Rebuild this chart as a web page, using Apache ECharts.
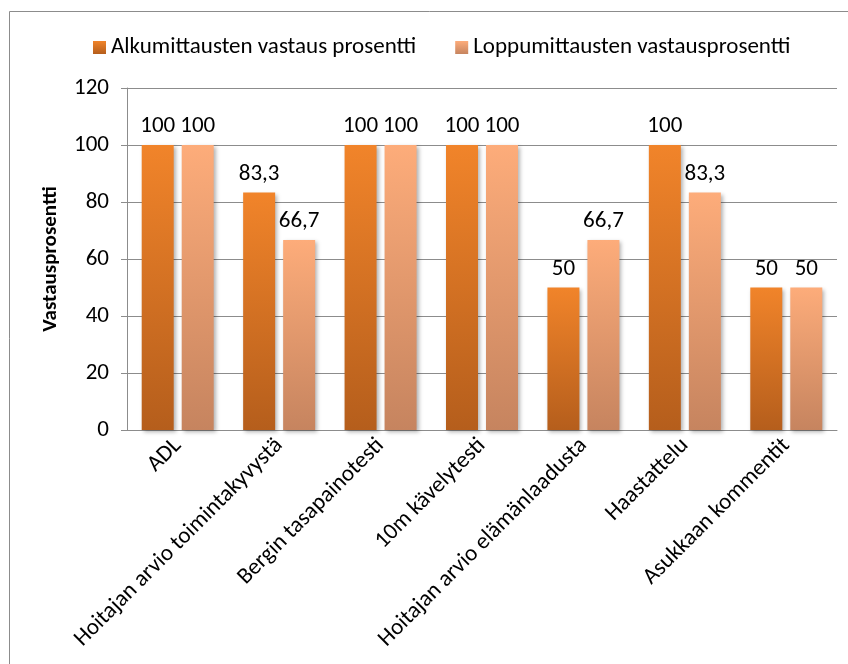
<!DOCTYPE html>
<html>
<head>
<meta charset="utf-8">
<script src="https://cdn.jsdelivr.net/npm/echarts@6/dist/echarts.min.js"></script>
<style>
html,body{margin:0;padding:0;background:#fff;}
#chart{width:848px;height:664px;}
</style>
</head>
<body>
<div id="chart"></div>
<script>
const categories = ["ADL","Hoitajan arvio toimintakyvystä","Bergin tasapainotesti","10m kävelytesti","Hoitajan arvio elämänlaadusta","Haastattelu","Asukkaan kommentit"];
const seriesNames = ["Alkumittausten vastaus prosentti","Loppumittausten vastausprosentti"];
const alku = [100, 83.3, 100, 100, 50, 100, 50];
const loppu = [100, 66.7, 100, 100, 66.7, 83.3, 50];
const yAxisName = "Vastausprosentti";

const FONT = "Carlito, Lato, sans-serif";
const FS = 23;
const chart = echarts.init(document.getElementById('chart'), null, {renderer:'canvas'});

function grad(top, bottom){
  return new echarts.graphic.LinearGradient(0,0,0,1,[{offset:0,color:top},{offset:1,color:bottom}]);
}
const fmt = p => String(p.value).replace('.', ',');

chart.setOption({
  animation:false,
  backgroundColor:'#fff',
  textStyle:{fontFamily:FONT},
  graphic:[{
    type:'rect', silent:true, z:-1,
    shape:{x:9.5,y:11.5,width:900,height:700},
    style:{fill:'none',stroke:'#8c8c8c',lineWidth:1}
  }],
  legend:{
    left:88, top:31,
    itemWidth:13, itemHeight:13, itemGap:39,
    textStyle:{fontFamily:FONT,fontSize:FS,color:'#000'},
    data:seriesNames.map((n,i)=>({name:n,icon:'rect'}))
  },
  grid:{left:127,right:11,top:88,bottom:234,containLabel:false},
  xAxis:{
    type:'category', data:categories,
    axisLine:{show:true,lineStyle:{color:'#8c8c8c',width:1}},
    axisTick:{show:false},
    axisLabel:{rotate:45,fontFamily:FONT,fontSize:FS,color:'#000',margin:12,interval:0}
  },
  yAxis:{
    type:'value', min:0, max:120, interval:20,
    name:yAxisName, nameLocation:'middle', nameRotate:90, nameGap:66,
    nameTextStyle:{fontFamily:FONT,fontSize:21,fontWeight:'bold',color:'#000'},
    axisLine:{show:true,lineStyle:{color:'#8c8c8c',width:1}},
    axisTick:{show:true,length:6,lineStyle:{color:'#8c8c8c'}},
    axisLabel:{fontFamily:FONT,fontSize:FS,color:'#000',margin:18},
    splitLine:{show:true,lineStyle:{color:'#8c8c8c',width:1}}
  },
  series:[
    {
      name:seriesNames[0], type:'bar', data:alku,
      barWidth:32, barGap:'25%',
      itemStyle:{color:grad('#f1842a','#b55e1c'),shadowColor:'rgba(0,0,0,0.3)',shadowBlur:4,shadowOffsetX:2,shadowOffsetY:2},
      label:{show:true,position:'top',distance:7,formatter:fmt,fontFamily:FONT,fontSize:FS,color:'#000'}
    },
    {
      name:seriesNames[1], type:'bar', data:loppu,
      barWidth:32,
      itemStyle:{color:grad('#fdac7a','#c6845f'),shadowColor:'rgba(0,0,0,0.3)',shadowBlur:4,shadowOffsetX:2,shadowOffsetY:2},
      label:{show:true,position:'top',distance:7,formatter:fmt,fontFamily:FONT,fontSize:FS,color:'#000'}
    }
  ]
});
</script>
</body>
</html>
